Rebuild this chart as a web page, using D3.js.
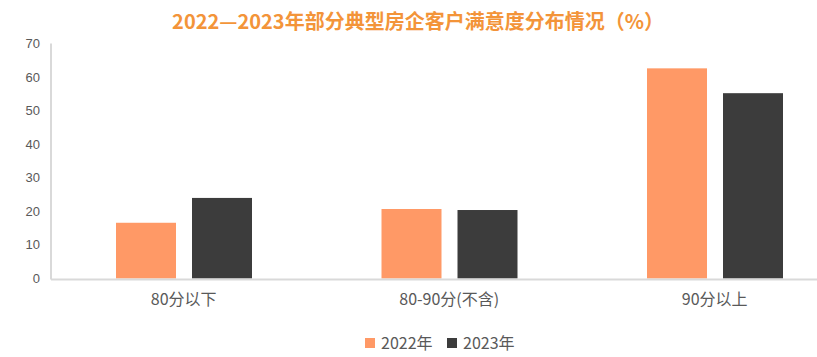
<!DOCTYPE html>
<html><head><meta charset="utf-8">
<script src="https://cdn.jsdelivr.net/npm/d3@7/dist/d3.min.js"></script>
<style>
body{margin:0;background:#fff;}
svg{display:block;}
</style></head>
<body>
<svg id="chart" width="817" height="357"></svg>
<script>
const title = "2022—2023年部分典型房企客户满意度分布情况（%）";
const categories = ["80分以下", "80-90分(不含)", "90分以上"];
const seriesNames = ["2022年", "2023年"];
const values2022 = [16.6, 20.7, 62.6];
const values2023 = [24.0, 20.4, 55.2];
const yTicks = [0, 10, 20, 30, 40, 50, 60, 70];
const colors = ["#FF9966", "#3C3C3C"];

(function () {
const svg = d3.select("#chart");
const mLeft = 51, mRight = 847.5, mTop = 43.5, mBottom = 278.5;

const x = d3.scaleBand().domain(categories).range([mLeft, mRight]).paddingInner(0).paddingOuter(0);
const x1 = d3.scaleBand().domain(seriesNames).range([65, 201]).paddingInner(0.2105);
const y = d3.scaleLinear().domain([0, 70]).range([mBottom, mTop]);

const cjk = "'Noto Sans CJK SC', 'Noto Sans', sans-serif";

svg.append("text").attr("x", 418).attr("y", 29).attr("text-anchor", "middle")
  .attr("font-family", cjk).attr("font-weight", "bold").attr("font-size", 20)
  .attr("fill", "#F39439").text(title);

// y axis labels
svg.append("g").selectAll("text").data(yTicks).join("text")
  .attr("x", 40).attr("y", d => y(d)).attr("dy", "0.35em").attr("text-anchor", "end")
  .attr("font-family", "'Liberation Sans', Arial, sans-serif").attr("font-size", 13)
  .attr("fill", "#595959").text(d => d);

// bars
const data = categories.map((c, i) => ({c, vals: [values2022[i], values2023[i]]}));
const g = svg.append("g");
data.forEach(d => {
  d.vals.forEach((v, j) => {
    g.append("rect")
      .attr("x", x(d.c) + x1(seriesNames[j]))
      .attr("y", y(v))
      .attr("width", x1.bandwidth())
      .attr("height", y(0) - y(v))
      .attr("fill", colors[j]);
  });
});

// axis lines
svg.append("line").attr("x1", mLeft).attr("x2", mLeft).attr("y1", mTop).attr("y2", mBottom + 1)
  .attr("stroke", "#D9D9D9").attr("stroke-width", 2);
svg.append("line").attr("x1", mLeft).attr("x2", 817).attr("y1", mBottom + 1).attr("y2", mBottom + 1)
  .attr("stroke", "#D9D9D9").attr("stroke-width", 2);

// x labels
svg.append("g").selectAll("text").data(categories).join("text")
  .attr("x", d => x(d) + x.bandwidth() / 2).attr("y", 299).attr("dy", "0.35em")
  .attr("text-anchor", "middle").attr("font-family", cjk).attr("font-size", 16)
  .attr("fill", "#595959").text(d => d);

// legend
const legendPos = [365, 447];
seriesNames.forEach((s, i) => {
  svg.append("rect").attr("x", legendPos[i]).attr("y", 338).attr("width", 10).attr("height", 10)
    .attr("fill", colors[i]);
  svg.append("text").attr("x", legendPos[i] + 16).attr("y", 343).attr("dy", "0.35em")
    .attr("font-family", cjk).attr("font-size", 16).attr("fill", "#595959").text(s);
});
})();
</script>
</body></html>
